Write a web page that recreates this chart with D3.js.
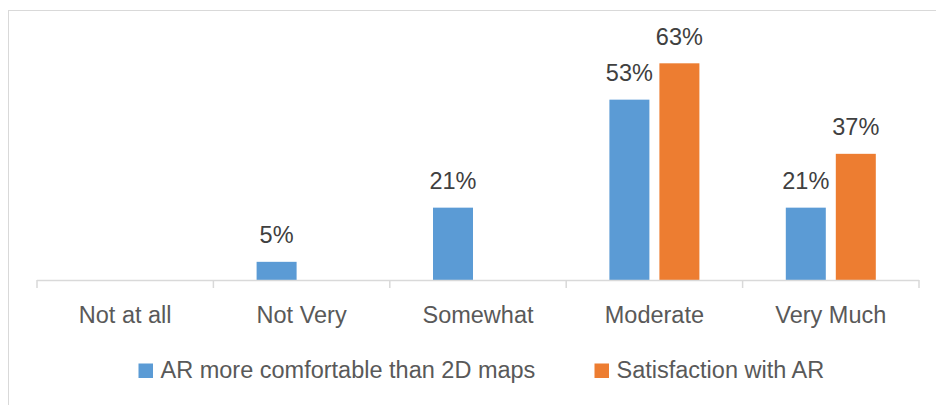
<!DOCTYPE html>
<html>
<head>
<meta charset="utf-8">
<script src="https://cdn.jsdelivr.net/npm/d3@7"></script>
<style>
  body { margin: 0; background: #fff; }
  svg { display: block; font-family: "Liberation Sans", Arial, Helvetica, sans-serif; }
</style>
</head>
<body>
<div id="chart"></div>
<script>
// chart data (percent of respondents)
const categories = ["Not at all", "Not Very", "Somewhat", "Moderate", "Very Much"];
const seriesNames = ["AR more comfortable than 2D maps", "Satisfaction with AR"];
const comfortValues = [0, 5.3, 21.1, 52.6, 21.1];
const satisfactionValues = [0, 0, 0, 63.2, 36.8];
const colors = ["#5B9BD5", "#ED7D31"];

const width = 936, height = 405;

const svg = d3.select("#chart")
    .append("svg")
    .attr("width", width)
    .attr("height", height);

// chart border (runs off the right and bottom of the picture)
svg.append("rect")
    .attr("x", 8.5)
    .attr("y", 10.5)
    .attr("width", 1000)
    .attr("height", 500)
    .attr("fill", "none")
    .attr("stroke", "#d9d9d9")
    .attr("stroke-width", 1);

const x0 = d3.scaleBand()
    .domain(categories)
    .range([37, 919])
    .padding(0);

const x1 = d3.scaleBand()
    .domain(seriesNames)
    .range([0, x0.bandwidth()])
    .paddingInner(0.2)
    .paddingOuter(0.864);

const y = d3.scaleLinear()
    .domain([0, 70])
    .range([280, 40]);

const rows = categories.map(function(c, i) {
    return { category: c, values: [comfortValues[i], satisfactionValues[i]] };
});

// bars
const groups = svg.selectAll("g.group")
    .data(rows)
    .enter().append("g")
    .attr("class", "group")
    .attr("transform", d => "translate(" + x0(d.category) + ",0)");

const cells = groups.selectAll("g.cell")
    .data(d => d.values.map((v, j) => ({ series: seriesNames[j], value: v, j: j })))
    .enter().append("g")
    .filter(d => d.value > 0);

cells.append("rect")
    .attr("x", d => x1(d.series))
    .attr("y", d => y(d.value))
    .attr("width", x1.bandwidth())
    .attr("height", d => y(0) - y(d.value))
    .attr("fill", d => colors[d.j]);

cells.append("text")
    .attr("x", d => x1(d.series) + x1.bandwidth() / 2)
    .attr("y", d => y(d.value) - 18.5)
    .attr("text-anchor", "middle")
    .attr("font-size", "23.5px")
    .attr("fill", "#404040")
    .text(d => Math.round(d.value) + "%");

// category axis
const xAxis = svg.append("g")
    .attr("transform", "translate(0," + y(0) + ")")
    .call(d3.axisBottom(x0).tickSize(0).tickSizeOuter(0).tickPadding(0));
xAxis.select(".domain").remove();
xAxis.selectAll(".tick line").remove();
xAxis.selectAll(".tick text")
    .attr("y", 43)
    .attr("dy", 0)
    .attr("font-size", "23.5px")
    .attr("font-family", "'Liberation Sans', Arial, sans-serif")
    .attr("fill", "#595959");

svg.append("line")
    .attr("x1", x0.range()[0])
    .attr("x2", x0.range()[1])
    .attr("y1", y(0) + 0.5)
    .attr("y2", y(0) + 0.5)
    .attr("stroke", "#d9d9d9")
    .attr("stroke-width", 1.5);

const tickPositions = categories.map(c => x0(c)).concat([x0.range()[1]]);
svg.selectAll("line.sep")
    .data(tickPositions)
    .enter().append("line")
    .attr("class", "sep")
    .attr("x1", d => d)
    .attr("x2", d => d)
    .attr("y1", y(0))
    .attr("y2", y(0) + 8)
    .attr("stroke", "#d9d9d9")
    .attr("stroke-width", 1.5);

// legend
const legendX = [138.5, 594.5];
const legend = svg.selectAll("g.legend")
    .data(seriesNames)
    .enter().append("g")
    .attr("class", "legend")
    .attr("transform", (d, i) => "translate(" + legendX[i] + ",363.5)");

legend.append("rect")
    .attr("width", 14.5)
    .attr("height", 14.5)
    .attr("fill", (d, i) => colors[i]);

legend.append("text")
    .attr("x", 22)
    .attr("y", 14.5)
    .attr("font-size", "23.5px")
    .attr("fill", "#595959")
    .text(d => d);
</script>
</body>
</html>
